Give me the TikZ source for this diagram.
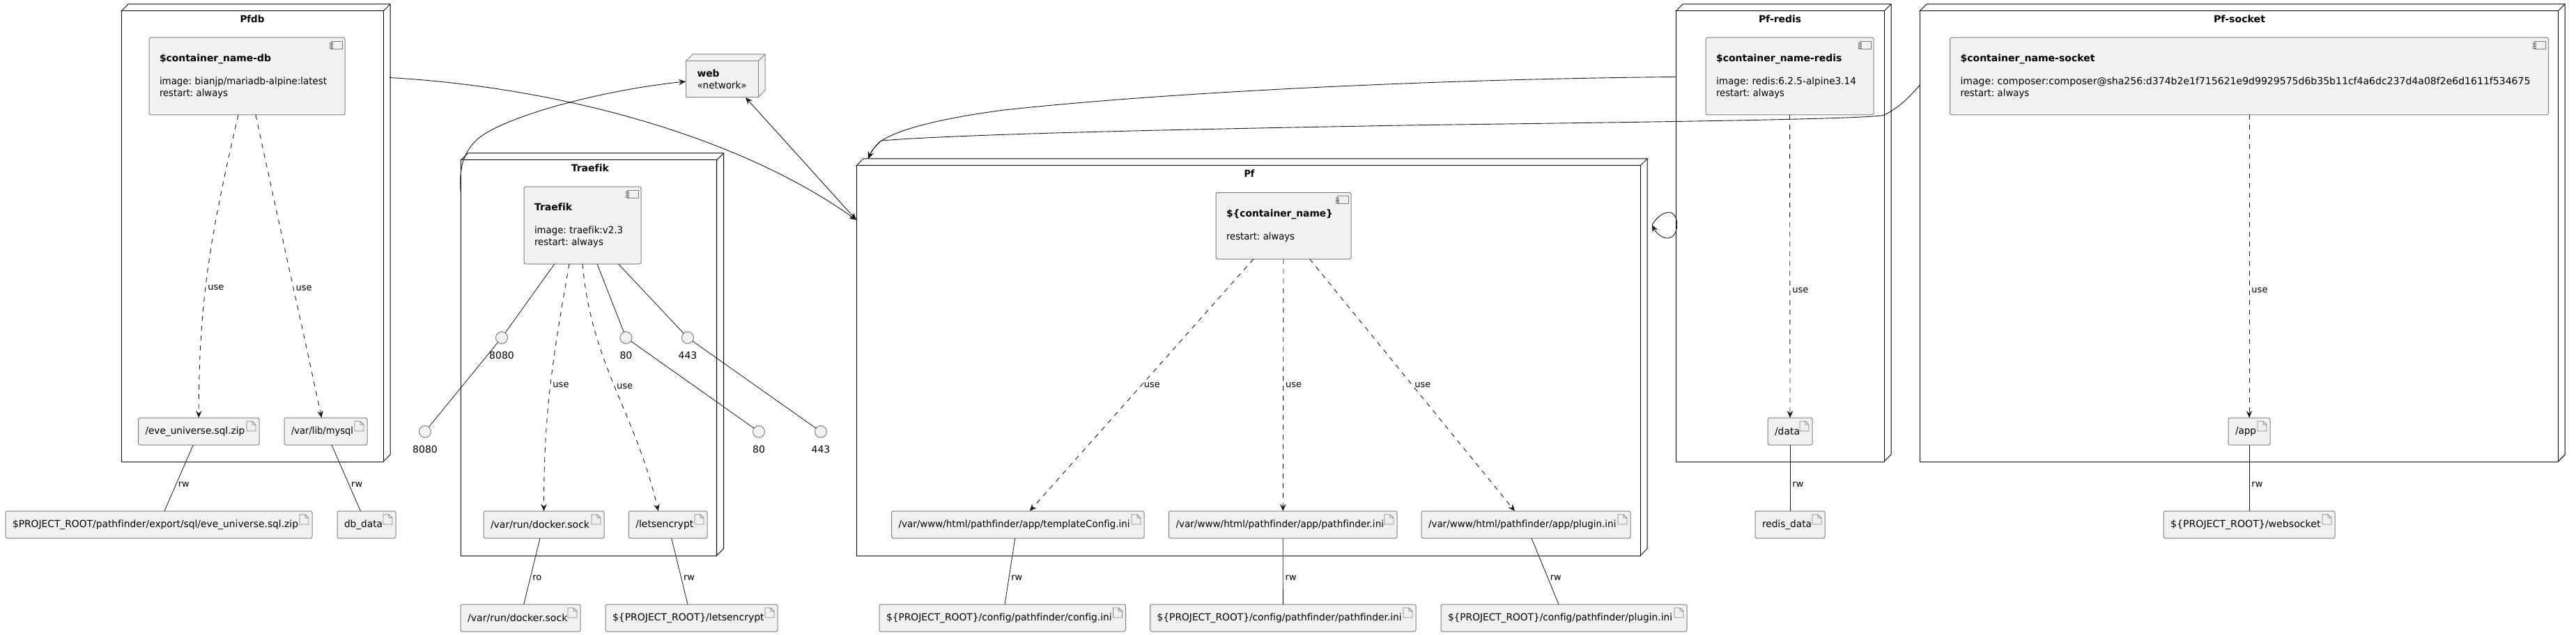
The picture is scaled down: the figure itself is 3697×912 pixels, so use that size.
\documentclass[tikz,border=0pt]{standalone}
\usepackage{fontspec}
\usepackage{graphicx}
\setmainfont{DejaVu Sans}[Ligatures=NoCommon]
\usetikzlibrary{arrows.meta}
\definecolor{boxfill}{HTML}{F1F1F1}
\definecolor{boxline}{HTML}{808080}
\definecolor{wire}{HTML}{181818}
\newcommand{\fitw}[2]{\resizebox{#1pt}{\height}{#2}}
\tikzset{
  every node/.style={font=\fontsize{14}{16.5}\selectfont\frenchspacing},
  cubebox/.style n args={4}{draw=#4, fill=#3, line width=1pt, anchor=north west, inner sep=0pt, outer sep=0pt,
    minimum width=#1pt, minimum height=#2pt, align=left,
    append after command={\pgfextra{\let\boxname\tikzlastnode
      \filldraw[draw=#4, fill=#3, line width=1pt] (\boxname.north west) -- ++(10,-10)
        -- ([shift={(10,-10)}]\boxname.north east) -- ([shift={(10,-10)}]\boxname.south east)
        -- (\boxname.south east) -- (\boxname.north east) -- cycle;
      \draw[draw=#4, line width=1pt] (\boxname.north east) -- ++(10,-10);}}},
  deploybox/.style 2 args={cubebox={#1}{#2}{white}{black}},
  compbox/.style 2 args={draw=boxline, fill=boxfill, line width=1pt, rounded corners=2.5pt, anchor=north west,
    inner sep=0pt, outer sep=0pt, minimum width=#1pt, minimum height=#2pt, text width=#1pt-30pt, align=left,
    path picture={
      \coordinate (corner) at (path picture bounding box.north east);
      \draw[boxline, line width=.8pt, sharp corners]
        ([shift={(-20,5)}]corner) rectangle ([shift={(-4,16)}]corner)
        ([shift={(-22,7.5)}]corner) rectangle ([shift={(-18,10.5)}]corner)
        ([shift={(-22,12)}]corner) rectangle ([shift={(-18,15)}]corner);}},
  filebox/.style={draw=boxline, fill=boxfill, line width=1pt, rounded corners=2.5pt, anchor=north west,
    inner sep=0pt, outer sep=0pt, minimum width=#1pt, minimum height=39pt, text width=#1pt-20pt, align=left,
    path picture={
      \coordinate (corner) at (path picture bounding box.north east);
      \draw[boxline, line width=.8pt, sharp corners]
        ([shift={(-18,5)}]corner) -- ([shift={(-10,5)}]corner) -- ([shift={(-5,10)}]corner)
        -- ([shift={(-5,19)}]corner) -- ([shift={(-18,19)}]corner) -- cycle
        ([shift={(-10,5)}]corner) -- ([shift={(-10,10)}]corner) -- ([shift={(-5,10)}]corner);}},
  portdot/.style={circle, draw=boxline, fill=boxfill, line width=1pt, minimum size=17pt, inner sep=0pt, outer sep=0pt},
  edgelabel/.style={font=\fontsize{13}{15}\selectfont, anchor=west, inner sep=3pt, text=black},
  flow/.style={draw=wire, line width=.9pt, -{Stealth[length=10pt,width=8.5pt,inset=3.5pt]}},
  useflow/.style={flow, dash pattern=on 7pt off 7pt},
  mount/.style={draw=wire, line width=.8pt}
}
\begin{document}
\begin{tikzpicture}[x=1pt,y=-1pt]
  \useasboundingbox (0,0) rectangle (3697,912);
  \draw
    (174,16) node[deploybox={376}{647}] (pfdb){}
    (661.5,230) node[deploybox={367}{568}] (traefik){}
    (1229,238) node[deploybox={1125}{560}] (pf){}
    (2405,16) node[deploybox={299}{647}] (pfredis){}
    (2755,16) node[deploybox={916}{647}] (pfsocket){}
    (984,88) node[cubebox={104}{52}{boxfill}{boxline}] (web){\fitw{32}{\textbf{web}}\\\fitw{71}{«network»}}
    (362,27) node (pfdbtitle){\fitw{35}{\textbf{Pfdb}}}
    (847,241) node (traefiktitle){\fitw{54.5}{\textbf{Traefik}}}
    (1793,249) node (pftitle){\fitw{15}{\textbf{Pf}}}
    (2554.5,27) node (pfredistitle){\fitw{61}{\textbf{Pf-redis}}}
    (3214,27) node (pfsockettitle){\fitw{74}{\textbf{Pf-socket}}};
  \draw
    (214,54) node[compbox={281}{111}] (dbapp){\fitw{160}{\textbf{\$container\_name-db}}\\[16.5pt]\fitw{240}{image: bianjp/mariadb-alpine:latest}\\\fitw{98}{restart: always}\\[6pt]}
    (752,268) node[compbox={168}{111}] (traefikapp){\fitw{54.5}{\textbf{Traefik}}\\[16.5pt]\fitw{127}{image: traefik:v2.3}\\\fitw{99}{restart: always}\\[6pt]}
    (1745,276.5) node[compbox={194}{95.5}] (pfapp){\fitw{153}{\textbf{\$\{container\_name\}}}\\[16.5pt]\fitw{98}{restart: always}\\[6pt]}
    (2448,54) node[compbox={241}{111}] (redisapp){\fitw{180.4}{\textbf{\$container\_name-redis}}\\[16.5pt]\fitw{201}{image: redis:6.2.5-alpine3.14}\\\fitw{98}{restart: always}\\[6pt]}
    (2798.5,54) node[compbox={859}{111}] (socketapp){\fitw{193}{\textbf{\$container\_name-socket}}\\[16.5pt]\fitw{818}{image: composer:composer@sha256:d374b2e1f715621e9d9929575d6b35b11cf4a6dc237d4a08f2e6d1611f534675}\\\fitw{98.8}{restart: always}\\[6pt]};
  \draw
    (198.5,600) node[filebox=173.5] (evefile){\fitw{142.7}{/eve\_universe.sql.zip}}
    (408,600) node[filebox=119] (mysqlfile){\fitw{89}{/var/lib/mysql}}
    (8,734) node[filebox=440] (evehost){\fitw{410}{\$PROJECT\_ROOT/pathfinder/export/sql/eve\_universe.sql.zip}}
    (484,734) node[filebox=84] (dbdata){\fitw{55}{db\_data}}
    (694,734) node[filebox=173] (dockerfile){\fitw{142}{/var/run/docker.sock}}
    (902.4,734) node[filebox=112.6] (lefile){\fitw{83}{/letsencrypt}}
    (661,868) node[filebox=172] (dockerhost){\fitw{143.5}{/var/run/docker.sock}}
    (869,868) node[filebox=247] (lehost){\fitw{217.6}{\$\{PROJECT\_ROOT\}/letsencrypt}}
    (1279.6,734) node[filebox=362.4] (templatefile){\fitw{332}{/var/www/html/pathfinder/app/templateConfig.ini}}
    (1677.5,734) node[filebox=327.5] (pathfile){\fitw{298.5}{/var/www/html/pathfinder/app/pathfinder.ini}}
    (2040,734) node[filebox=300] (pluginfile){\fitw{269.4}{/var/www/html/pathfinder/app/plugin.ini}}
    (1262,868) node[filebox=353.5] (confighost){\fitw{323.7}{\$\{PROJECT\_ROOT\}/config/pathfinder/config.ini}}
    (1650.7,868) node[filebox=381.3] (pathhost){\fitw{351}{\$\{PROJECT\_ROOT\}/config/pathfinder/pathfinder.ini}}
    (2068,868) node[filebox=353] (pluginhost){\fitw{322}{\$\{PROJECT\_ROOT\}/config/pathfinder/plugin.ini}}
    (2537,600) node[filebox=64] (datafile){\fitw{36}{/data}}
    (2519,734) node[filebox=100] (redisdata){\fitw{71}{redis\_data}}
    (3198,600) node[filebox=60] (appfile){\fitw{30}{/app}}
    (3105,734) node[filebox=246] (wshost){\fitw{215.6}{\$\{PROJECT\_ROOT\}/websocket}};
  \draw
    (720,485) node[portdot] (in8080){}
    (898.4,485) node[portdot] (in80){}
    (987,485) node[portdot] (in443){}
    (610,620) node[portdot] (out8080){}
    (1089,620) node[portdot] (out80){}
    (1178,620) node[portdot] (out443){}
    (720,510) node (in8080text){8080}
    (898.4,510) node (in80text){80}
    (987,510) node (in443text){443}
    (610,645) node (out8080text){8080}
    (1089,645) node (out80text){80}
    (1178,645) node (out443text){443};
  \begin{scope}[mount]
    \draw ([xshift=-40pt]traefikapp.south) to (in8080);
    \draw ([xshift=21pt]traefikapp.south) to (in80);
    \draw ([xshift=51.4pt]traefikapp.south) to (in443);
    \draw (in8080) to (out8080);
    \draw (in80) to (out80);
    \draw (in443) to (out443);
    \draw ([xshift=-8pt]evefile.south) to node[edgelabel,pos=.6] (rw1){rw} ([xshift=8pt]evehost.north);
    \draw ([xshift=8.5pt]mysqlfile.south) to node[edgelabel,pos=.6] (rw2){rw} ([xshift=-8.6pt]dbdata.north);
    \draw ([xshift=-5.5pt]dockerfile.south) to node[edgelabel,pos=.6] (ro1){ro} ([xshift=4.7pt]dockerhost.north);
    \draw ([xshift=5pt]lefile.south) to node[edgelabel,pos=.6] (rw3){rw} ([xshift=-5.5pt]lehost.north);
    \draw ([xshift=-4pt]templatefile.south) to node[edgelabel,pos=.6] (rw4){rw} ([xshift=3.3pt]confighost.north);
    \draw (pathfile.south) to node[edgelabel,pos=.6] (rw5){rw} (pathhost.north);
    \draw ([xshift=8pt]pluginfile.south) to node[edgelabel,pos=.6] (rw6){rw} ([xshift=-7.5pt]pluginhost.north);
    \draw (datafile.south) to node[edgelabel,pos=.6] (rw7){rw} (redisdata.north);
    \draw (appfile.south) to node[edgelabel,pos=.6] (rw8){rw} (wshost.north);
  \end{scope}
  \begin{scope}[useflow]
    \draw ([xshift=-12.5pt]dbapp.south) to[out=-103,in=90] node[edgelabel,pos=.58] (use1){use} (evefile.north);
    \draw ([xshift=12.5pt]dbapp.south) to[out=-78,in=102] node[edgelabel,pos=.58] (use2){use} ([xshift=-6pt]mysqlfile.north);
    \draw ([xshift=-19pt]traefikapp.south) to[out=-100,in=90] node[edgelabel,pos=.49] (use3){use} (dockerfile.north);
    \draw (traefikapp.south) to[out=-85,in=103] node[edgelabel,pos=.49] (use4){use} ([xshift=-14pt]lefile.north);
    \draw ([xshift=-43pt]pfapp.south) to node[edgelabel,pos=.5] (use5){use} ([xshift=17pt]templatefile.north);
    \draw (pfapp.south) to node[edgelabel,pos=.5] (use6){use} (pathfile.north);
    \draw ([xshift=37.6pt]pfapp.south) to node[edgelabel,pos=.5] (use7){use} ([xshift=-16pt]pluginfile.north);
    \draw (redisapp.south) to node[edgelabel,pos=.58] (use8){use} (datafile.north);
    \draw (socketapp.south) to node[edgelabel,pos=.58] (use9){use} (appfile.north);
  \end{scope}
  \begin{scope}[flow]
    \draw ([shift={(9,95.5)}]pfdb.north east) .. controls (800,125) and (1060,195) .. ([yshift=-78pt]pf.north west);
    \draw ([yshift=-50pt]traefik.north west) .. controls (659,250) and (661,222) .. (685,200) .. controls (722,168) and (860,130) .. ([yshift=-3pt]web.west);
    \draw[{Stealth[length=10pt,width=8.5pt,inset=3.5pt]}-{Stealth[length=10pt,width=8.5pt,inset=3.5pt]}] ([xshift=34pt]web.south) to ([yshift=-78pt]pf.north west);
    \draw ([yshift=-94.5pt]pfredis.north west) .. controls (2100,113) and (1700,130) .. (1441,158) .. controls (1380,166) and (1300,180) .. (1265,202) .. controls (1258,207) and (1250,218) .. ([shift={(17,-10)}]pf.north west);
    \draw ([yshift=-106.5pt]pfsocket.north west) .. controls (2740,140) and (2725,155) .. (2703,165.7) .. controls (2660,172) and (2300,176) .. (2015,180) .. controls (1800,184) and (1400,191) .. (1265,202) .. controls (1258,207) and (1250,218) .. ([shift={(17,-10)}]pf.north west);
    \draw ([shift={(17,85)}]pf.north east) .. controls (2378,311) and (2388,305) .. (2395,305) .. controls (2411,305) and (2411,342) .. (2393,342) .. controls (2385,342) and (2377,335) .. ([shift={(17,85)}]pf.north east);
  \end{scope}
\end{tikzpicture}
\end{document}
